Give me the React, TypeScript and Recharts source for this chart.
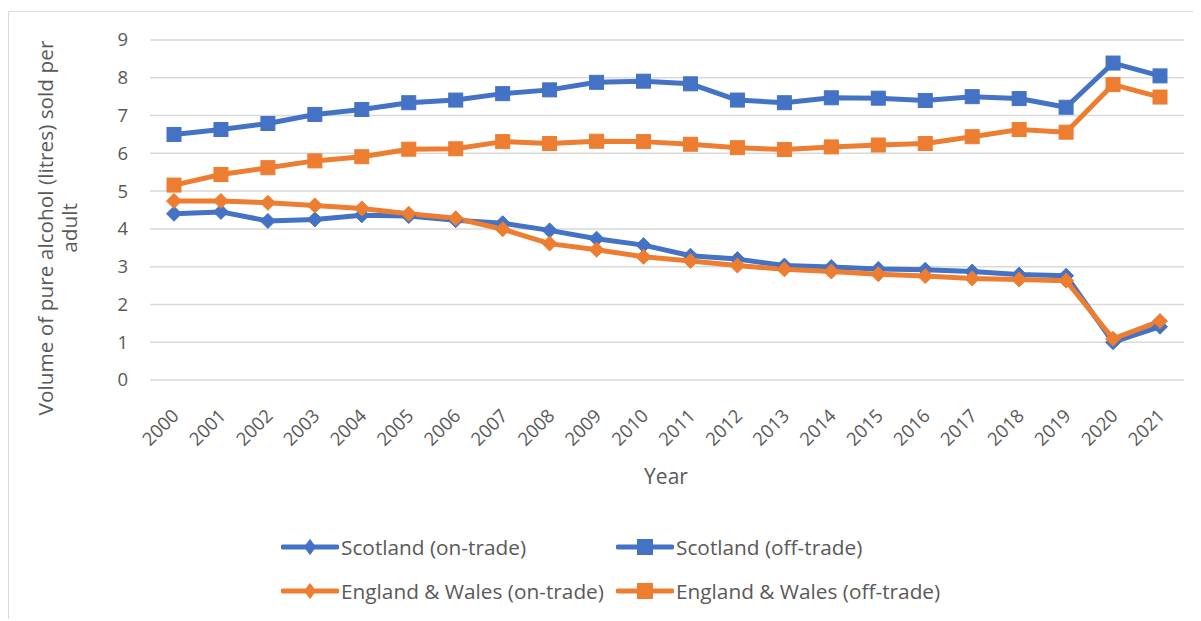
import { CartesianGrid, Label, Legend, Line, LineChart, XAxis, YAxis } from 'recharts';

const years = [
  '2000', '2001', '2002', '2003', '2004', '2005', '2006', '2007', '2008', '2009', '2010',
  '2011', '2012', '2013', '2014', '2015', '2016', '2017', '2018', '2019', '2020', '2021',
];

const scotlandOnTrade = [
  4.4, 4.45, 4.21, 4.25, 4.36, 4.34, 4.23, 4.15, 3.96, 3.74, 3.57,
  3.29, 3.2, 3.03, 2.99, 2.94, 2.92, 2.87, 2.79, 2.76, 1.0, 1.41,
];
const scotlandOffTrade = [
  6.5, 6.63, 6.79, 7.03, 7.16, 7.34, 7.41, 7.58, 7.68, 7.88, 7.91,
  7.84, 7.41, 7.34, 7.47, 7.46, 7.4, 7.5, 7.45, 7.22, 8.39, 8.05,
];
const englandWalesOnTrade = [
  4.74, 4.74, 4.69, 4.62, 4.54, 4.4, 4.28, 3.99, 3.61, 3.45, 3.26,
  3.15, 3.03, 2.93, 2.87, 2.8, 2.75, 2.69, 2.66, 2.63, 1.09, 1.56,
];
const englandWalesOffTrade = [
  5.16, 5.44, 5.62, 5.8, 5.91, 6.11, 6.12, 6.31, 6.26, 6.32, 6.31,
  6.24, 6.15, 6.1, 6.17, 6.22, 6.26, 6.44, 6.63, 6.56, 7.82, 7.49,
];

const yTicks = [0, 1, 2, 3, 4, 5, 6, 7, 8, 9];

const BLUE = '#4472C4';
const ORANGE = '#ED7D31';
const TEXT = '#595959';
const GRID = '#D9D9D9';
const FONT = '"Open Sans", "Noto Sans", sans-serif';

type Marker = 'diamond' | 'square';

const series: { key: string; name: string; color: string; marker: Marker }[] = [
  { key: 'scotlandOn', name: 'Scotland (on-trade)', color: BLUE, marker: 'diamond' },
  { key: 'scotlandOff', name: 'Scotland (off-trade)', color: BLUE, marker: 'square' },
  { key: 'ewOn', name: 'England & Wales (on-trade)', color: ORANGE, marker: 'diamond' },
  { key: 'ewOff', name: 'England & Wales (off-trade)', color: ORANGE, marker: 'square' },
];

const data = years.map((year, i) => ({
  year,
  scotlandOn: scotlandOnTrade[i],
  scotlandOff: scotlandOffTrade[i],
  ewOn: englandWalesOnTrade[i],
  ewOff: englandWalesOffTrade[i],
}));

function markerShape(marker: Marker, cx: number, cy: number, color: string, w: number, h: number) {
  if (marker === 'square') {
    return <rect x={cx - w / 2} y={cy - h / 2} width={w} height={h} fill={color} stroke={color} strokeWidth={1} />;
  }
  return (
    <path
      d={`M${cx},${cy - h / 2} L${cx + w / 2},${cy} L${cx},${cy + h / 2} L${cx - w / 2},${cy} Z`}
      fill={color}
      stroke={color}
      strokeWidth={1}
    />
  );
}

function makeDot(marker: Marker, color: string) {
  return (props: any) => {
    const { cx, cy, index } = props;
    if (cx == null || cy == null) return <g key={index} />;
    const size = marker === 'square' ? 14 : 15;
    return <g key={index}>{markerShape(marker, cx, cy, color, size, size)}</g>;
  };
}

function YearTick({ x, y, payload }: any) {
  const px = x + 6;
  const py = y + 29;
  return (
    <text
      x={px}
      y={py}
      textAnchor="end"
      transform={`rotate(-45, ${px}, ${py})`}
      fill={TEXT}
      fontSize={18.5}
      fontFamily={FONT}
    >
      {payload.value}
    </text>
  );
}

function ValueTick({ x, y, payload }: any) {
  return (
    <text x={x - 14} y={y} dy="0.35em" textAnchor="end" fill={TEXT} fontSize={18.5} fontFamily={FONT}>
      {payload.value}
    </text>
  );
}

// two-by-two legend, in series order
function LegendGrid() {
  return (
    <div style={{ position: 'relative', height: 80, fontFamily: FONT, fontSize: 20.8, color: TEXT }}>
      {series.map((s, i) => {
        const col = i % 2;
        const row = Math.floor(i / 2);
        return (
          <div
            key={s.key}
            style={{
              position: 'absolute',
              left: col === 0 ? 272 : 607,
              top: row * 44,
              display: 'flex',
              alignItems: 'center',
              height: 30,
              whiteSpace: 'nowrap',
            }}
          >
            <svg width={58} height={20} style={{ marginRight: 2, flex: 'none' }}>
              <line x1={2} y1={10} x2={56} y2={10} stroke={s.color} strokeWidth={5} strokeLinecap="round" />
              {s.marker === 'square'
                ? markerShape('square', 29, 10, s.color, 15, 15)
                : markerShape('diamond', 29, 10, s.color, 11, 15)}
            </svg>
            <span>{s.name}</span>
          </div>
        );
      })}
    </div>
  );
}

export default function App() {
  return (
    <div style={{ paddingTop: 3 }}>
      <div
        style={{
          width: 1192,
          height: 607,
          borderTop: `1px solid ${GRID}`,
          borderLeft: `1px solid ${GRID}`,
          background: '#fff',
        }}
      >
        <LineChart
          width={1192}
          height={607}
          data={data}
          margin={{ top: 28, right: 17, bottom: 0, left: 0 }}
        >
          <CartesianGrid vertical={false} stroke={GRID} strokeWidth={1.5} />
          <XAxis
            dataKey="year"
            axisLine={false}
            tickLine={false}
            interval={0}
            height={239}
            padding={{ left: 24, right: 24 }}
            tick={<YearTick />}
          >
            <Label
              content={() => (
                <text x={657} y={464} textAnchor="middle" dominantBaseline="central" fill={TEXT} fontSize={21} fontFamily={FONT}>
                  Year
                </text>
              )}
            />
          </XAxis>
          <YAxis
            width={141}
            domain={[0, 9]}
            ticks={yTicks}
            axisLine={false}
            tickLine={false}
            tick={<ValueTick />}
          >
            <Label
              content={() => (
                <g fill={TEXT} fontSize={20.8} fontFamily={FONT}>
                  <text x={36} y={216} textAnchor="middle" dominantBaseline="central" transform="rotate(-90, 36, 216)">
                    Volume of pure alcohol (litres) sold per
                  </text>
                  <text x={60} y={216} textAnchor="middle" dominantBaseline="central" transform="rotate(-90, 60, 216)">
                    adult
                  </text>
                </g>
              )}
            />
          </YAxis>
          <Legend
            layout="horizontal"
            verticalAlign="middle"
            align="center"
            wrapperStyle={{ top: 520, left: 0, width: 1192 }}
            content={<LegendGrid />}
          />
          {series.map((s) => (
            <Line
              key={s.key}
              dataKey={s.key}
              name={s.name}
              stroke={s.color}
              strokeWidth={5}
              strokeLinejoin="round"
              dot={makeDot(s.marker, s.color)}
              activeDot={false}
              isAnimationActive={false}
            />
          ))}
        </LineChart>
      </div>
    </div>
  );
}
